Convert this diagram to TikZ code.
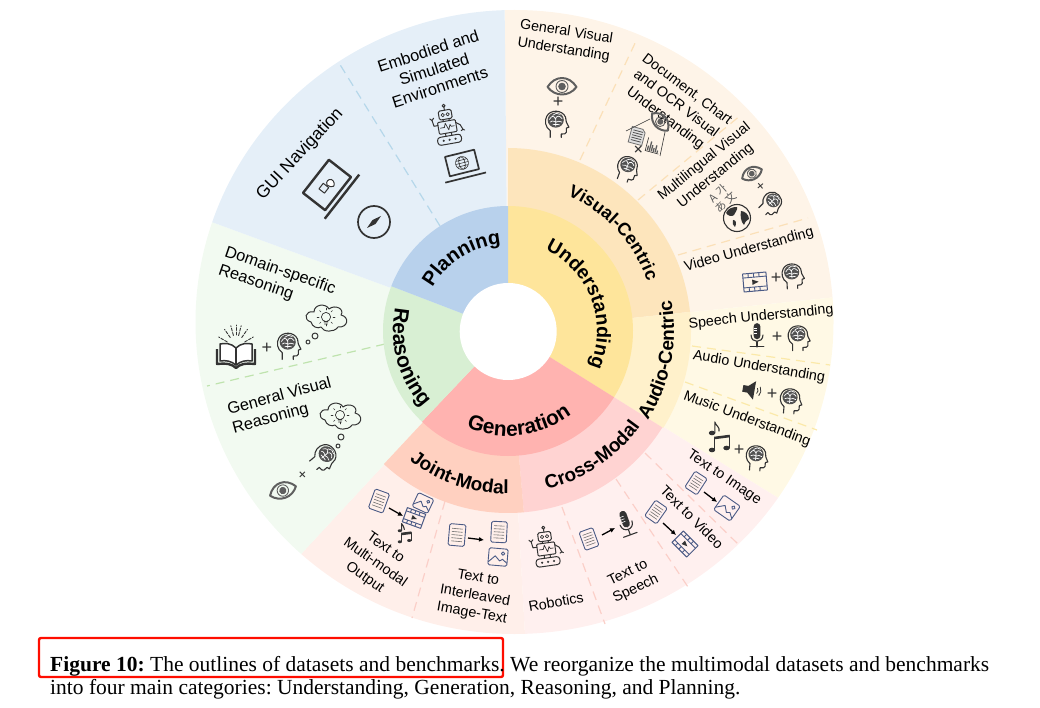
\documentclass[tikz,border=0pt]{standalone}
\usepackage{fontspec}
\setmainfont{Liberation Sans}
\newfontfamily\capfont{Liberation Serif}
\newfontfamily\cjkfont{Noto Sans CJK KR}
\usetikzlibrary{decorations.text,arrows.meta}
\definecolor{cUin}{HTML}{FEE59B}\definecolor{cVis}{HTML}{FDE5BC}\definecolor{cVisO}{HTML}{FEF4E8}
\definecolor{cAud}{HTML}{FFF1CB}\definecolor{cAudO}{HTML}{FFF9E5}
\definecolor{cGen}{HTML}{FFB3B0}\definecolor{cCro}{HTML}{FFD3D2}\definecolor{cCroO}{HTML}{FFF0EF}
\definecolor{cJoi}{HTML}{FFD0C0}\definecolor{cJoiO}{HTML}{FFEFEA}
\definecolor{cRea}{HTML}{D8EFD3}\definecolor{cReaO}{HTML}{F2FAF1}
\definecolor{cPla}{HTML}{B8D1EC}\definecolor{cPlaO}{HTML}{E5EFF8}
\definecolor{ink}{HTML}{333333}\definecolor{navy}{HTML}{4A5A85}\definecolor{eyeg}{HTML}{5F5F5F}
\definecolor{dPeach}{HTML}{FBE0B8}\definecolor{dYel}{HTML}{FBE9A9}\definecolor{dPink}{HTML}{FBCFC8}
\definecolor{dGreen}{HTML}{BFE3AE}\definecolor{dBlue}{HTML}{B5D7EA}
\newcommand{\sector}[4]{\fill[#1] (508,331) -- plot[domain=#3:#4,samples=50] ({508+#2*cos(\x)},{331-#2*sin(\x)}) -- cycle;}
\newcommand{\ringlabel}[5]{\path[decorate,decoration={text along path,text align=center,text={|\fontsize{#5}{22}\selectfont\bfseries|#1}}] plot[domain=#3:#4,samples=60] ({508+#2*cos(\x)},{331-#2*sin(\x)});}
\tikzset{
 lab/.style={inner sep=0,align=center,font=\fontsize{14.3}{18}\selectfont},
 labbig/.style={inner sep=0,align=center,font=\fontsize{16.3}{19}\selectfont},
 sym/.style={inner sep=0,font=\fontsize{18}{18}\selectfont,text=ink},
 icon/.style={draw=ink,line width=1pt,line join=round,line cap=round},
 thin icon/.style={draw=ink,line width=.6pt},
 navyi/.style={draw=navy,line width=.9pt,line join=round},
 flow/.style={draw=black,line width=1.3pt,-{Latex[length=5pt,width=5pt]}},
 sepO/.style={line width=1.2pt,dash pattern=on 9pt off 6pt},
 capt/.style={inner sep=0,anchor=base west,font=\capfont\fontsize{21.5}{24}\selectfont\frenchspacing},
 head/.pic={
  \draw[icon,line width=1.1pt] (-8,17) -- (-8,9) .. controls (-14,5) and (-15,-3) .. (-12,-8) .. controls (-8,-16) and (6,-16) .. (10,-7) .. controls (11,-4) and (11,-3) .. (11,-1) -- (14,5) -- (11,6) -- (11,11) .. controls (11,13) and (8,13) .. (5,13) -- (5,17);
  \fill[ink!85] (-1.5,-3.5) ellipse [x radius=9.5,y radius=9];
  \draw[white,line width=.7pt] (-9,-4) .. controls (-6,-9) and (-4,-9) .. (-2,-5) .. controls (0,-9) and (3,-9) .. (6,-5) (-8,-1) .. controls (-5,-4) and (-3,-1) .. (-1,-1) .. controls (1,-3) and (3,-2) .. (6,-1) (-5,-9) .. controls (-3,-12) and (1,-12) .. (4,-10) (-5,2) .. controls (-3,0) and (0,3) .. (3,2) (-1.5,-5) -- (-1.5,4);
 },
 eyeicon/.pic={
  \draw[draw=eyeg,line width=2pt,line join=round] (-14.5,0) .. controls (-7,-12) and (7,-12) .. (14.5,0) .. controls (7,10) and (-7,10) .. (-14.5,0) -- cycle;
  \draw[draw=eyeg,line width=.9pt] (0,-.5) circle [radius=6];
  \fill[eyeg] (0,-.5) circle [radius=3.8];
 },
 docicon/.pic={
  \draw[navyi,rounded corners=1.5pt] (-9,-12) rectangle (9,12);
  \foreach \yy in {-7,-3.5,0,3.5,7} \draw[draw=ink!70,line width=.6pt] (-6,\yy) -- (6,\yy);
 },
 imgicon/.pic={
  \draw[navyi,rounded corners=1.5pt] (-10,-9) rectangle (10,9);
  \draw[navyi] (-10,6) -- (-3,-1) -- (2,4) -- (5,2) -- (10,6);
  \draw[navyi] (5,-4) circle [radius=1.8];
 },
 filmicon/.pic={
  \draw[navyi,line width=1pt] (-13,-10) rectangle (13,10);
  \draw[navyi] (-13,-5.5) -- (13,-5.5) (-13,5.5) -- (13,5.5);
  \foreach \xx in {-7,-1,5} \draw[navyi] (\xx,-10) -- (\xx,-5.5) (\xx,5.5) -- (\xx,10);
  \fill[ink] (-3,-3) -- (4,0) -- (-3,3) -- cycle;
 },
 micicon/.pic={
  \fill[ink,rounded corners=3.5pt] (-4,-14) rectangle (4,5);
  \draw[white,line width=.6pt] (-4,-8) -- (0,-8) (-4,-5) -- (0,-5) (-4,-2) -- (0,-2);
  \draw[icon,line width=1.1pt] (-7,0) .. controls (-7,10) and (7,10) .. (7,0);
  \draw[icon,line width=1.1pt] (0,8) -- (0,14) (-8,14) -- (8,14);
 },
 speaker/.pic={
  \fill[ink] (-11,-4) -- (-5,-4) -- (3,-11) -- (3,11) -- (-5,4) -- (-11,4) -- cycle;
  \draw[icon,line width=.8pt] (6,-3) .. controls (7.5,-1) and (7.5,1) .. (6,3) (9,-5) .. controls (11,-2) and (11,2) .. (9,5);
 },
 notes/.pic={
  \fill[ink] (-8,12) ellipse [x radius=3.2,y radius=2.3] (6.5,10) ellipse [x radius=3.2,y radius=2.3] (-8,-5) ellipse [x radius=3.2,y radius=2.3];
  \draw[icon,line width=1.1pt] (-5.2,12) -- (-5.2,0) (9.3,10) -- (9.3,-2);
  \draw[ink,line width=2.6pt] (-5.7,0) -- (9.8,-2);
  \draw[icon,line width=1.1pt] (-5.2,-5) -- (-5.2,-16) .. controls (-4,-12) and (0,-11) .. (-1,-7);
 },
 robot/.pic={
  \draw[icon,rounded corners=1.5pt] (-6.5,-15) rectangle (6.5,-6);
  \draw[icon,line width=.7pt] (-2.5,-10.5) circle [radius=1.7] (2.5,-10.5) circle [radius=1.7];
  \draw[icon] (0,-15) -- (0,-18);\draw[icon] (0,-19.5) circle [radius=1.5];
  \draw[icon] (-3,-6) -- (-3,-4) (3,-6) -- (3,-4);
  \draw[icon,rounded corners=1pt] (-9,-4) rectangle (9,8);
  \draw[icon,line width=.7pt] (-7,2) -- (-3,2) -- (-1.5,-2) -- (1,5) -- (3,0) -- (4,2) -- (7,2);
  \draw[icon] (-9,-1) -- (-13,-1) -- (-14,-7) (-16,-9) -- (-14,-7) -- (-12,-9);
  \draw[icon] (9,-1) -- (13,2) -- (15,7) (13,8) -- (15,7) -- (16.5,8);
  \draw[icon] (-3,8) -- (-3,11) (3,8) -- (3,11);
  \draw[icon,rounded corners=3pt] (-12,11) rectangle (12,19);
  \fill[ink] (-6,15) circle [radius=1.2] (0,15) circle [radius=1.2] (6,15) circle [radius=1.2];
 },
 laptop/.pic={
  \draw[draw=ink,line width=2.4pt,line join=round] (-21,-14) rectangle (21,14);
  \draw[draw=ink,line width=2.4pt] (-28,19) -- (28,19);
 },
 smalllaptop/.pic={
  \draw[draw=ink,line width=1.7pt,line join=round] (-15,-10) rectangle (15,10);
  \draw[draw=ink,line width=1.7pt] (-21,15) -- (21,15);
  \draw[thin icon] (0,0) circle [radius=6.5] (0,0) ellipse [x radius=3,y radius=6.5] (-6.5,0) -- (6.5,0) (-5.5,-3) -- (5.5,-3) (-5.5,3) -- (5.5,3);
 },
 cursor/.pic={
  \draw[icon] (-8,-4) rectangle (-1,3);
  \draw[icon,fill=white] (0,0) .. controls (2,-3) and (5,-3) .. (7,0) .. controls (8,3) and (5,6) .. (3,6) .. controls (1,5) and (0,3) .. (0,0) -- cycle;
 },
 compass/.pic={
  \draw[draw=ink,line width=1.7pt] (0,0) circle [radius=16];
  \fill[ink] (-7,6) -- (-1.5,-2) -- (7,-6) -- (1.5,2) -- cycle;
 },
 cloudbulb/.pic={
  \draw[icon] (-15,4) .. controls (-23,2) and (-21,-8) .. (-12,-6) .. controls (-12,-14) and (0,-15) .. (3,-9) .. controls (9,-14) and (19,-9) .. (15,-3) .. controls (24,-1) and (22,10) .. (12,9) .. controls (8,15) and (-3,14) .. (-5,9) .. controls (-8,11) and (-14,9) .. (-15,4) -- cycle;
  \draw[icon,line width=.7pt] (0,-1) circle [radius=4.6] (-2,4) -- (2,4) (-1.5,6) -- (1.5,6);
  \foreach \aa in {0,45,...,315} \draw[icon,line width=.5pt] ({7*cos(\aa)},{-1+7*sin(\aa)}) -- ({9*cos(\aa)},{-1+9*sin(\aa)});
 },
 book/.pic={
  \draw[draw=ink,line width=2.4pt,line join=round] (-19,-3) -- (-19,12) .. controls (-9,11) and (-4,12) .. (0,16) .. controls (4,12) and (9,11) .. (19,12) -- (19,-3);
  \draw[icon,line width=1.5pt,fill=white] (0,-4) .. controls (-5,-9) and (-11,-9) .. (-16,-8) -- (-16,9) .. controls (-10,8) and (-5,9) .. (0,13) .. controls (5,9) and (10,8) .. (16,9) -- (16,-8) .. controls (11,-9) and (5,-9) .. (0,-4) -- cycle;
  \draw[icon,line width=1.5pt] (0,-4) -- (0,13);
  \foreach \aa in {-150,-125,-105,-90,-75,-55,-30} \draw[icon,line width=.9pt,dash pattern=on 3pt off 1.5pt] ({10*cos(\aa)},{-3+14*sin(\aa)}) -- ({20*cos(\aa)},{-3+24*sin(\aa)});
 },
 globe/.pic={
  \draw[draw=ink,line width=1.1pt] (0,0) circle [radius=13.5];
  \fill[ink] (-11,-5) .. controls (-9,-10) and (-4,-11) .. (0,-11) .. controls (1,-8) and (-2,-6) .. (-3,-3) .. controls (-5,-1) and (-9,-2) .. (-11,-5) -- cycle;
  \fill[ink] (-4,2) .. controls (-1,2) and (0,5) .. (-2,9) .. controls (-4,8) and (-5,5) .. (-4,2) -- cycle;
  \fill[ink] (4,-7) .. controls (8,-7) and (12,-3) .. (12,1) .. controls (9,3) and (7,5) .. (7,7) .. controls (4,4) and (3,-2) .. (4,-7) -- cycle;
 },
 chart/.pic={
  \draw[thin icon] (-8,-9) -- (-8,8) -- (9,8);
  \foreach \xx/\hh in {-5.5/6,-3/12,-.5/8,2/5,4.5/9,7/3} \draw[draw=ink!80,line width=1.3pt] (\xx,7) -- (\xx,7-\hh);
 },
 grayDoc/.pic={
  \fill[ink!15,draw=ink!70,line width=.8pt] (-7,-8) -- (4,-8) -- (7,-5) -- (7,8) -- (-7,8) -- cycle;
  \foreach \yy in {-5,-2.5,0,2.5,5} \draw[draw=ink!85,line width=.8pt] (-5,\yy) -- (5,\yy);
 },
}
\begin{document}
\begin{tikzpicture}[x=1pt,y=-1pt]
\useasboundingbox (0,0) rectangle (1040,708);
% outer wedges
\begin{scope}
\clip (514.5,322) ellipse [x radius=319,y radius=312];
\fill[cVisO] (508,331) -- (504,-50) -- (924,-50) -- (924,288) -- cycle;
\fill[cAudO] (508,331) -- (924,288) -- (924,551) -- (864,551) -- cycle;
\fill[cCroO] (508,331) -- (864,551) -- (530,724) -- cycle;
\fill[cJoiO] (508,331) -- (530,724) -- (238,622) -- cycle;
\fill[cReaO] (508,331) -- (238,622) -- (122,622) -- (122,189) -- cycle;
\fill[cPlaO] (508,331) -- (122,189) -- (122,-50) -- (504,-50) -- cycle;
\end{scope}
% separators
\draw[sepO,draw=dPeach] (580,160) -- (637,39);
\draw[sepO,draw=dPeach] (638,200) -- (741,115);
\draw[sepO,draw=dPeach] (678,255) -- (808,218);
\draw[sepO,draw=dYel] (692,346) -- (830,365);
\draw[sepO,draw=dYel] (685,382) -- (817,430);
\draw[sepO,draw=dPink] (645,453) -- (740,546);
\draw[sepO,draw=dPink] (616,479) -- (688,587);
\draw[sepO,draw=dPink] (562,507) -- (605,624);
\draw[sepO,draw=dPink] (445,501) -- (412,618);
\draw[sepO,draw=dGreen] (385,344) -- (207,386);
\draw[sepO,draw=dBlue] (440,226) -- (339,63);
% middle ring
\sector{cVis}{183}{90}{6}
\sector{cAud}{183}{6}{-32}
\sector{cCro}{182}{-32}{-85}
\sector{cJoi}{182}{-85}{-133}
% inner ring
\sector{cUin}{125}{90}{-32}
\sector{cGen}{125}{-32}{-133.5}
\sector{cRea}{125}{-133.5}{-201}
\sector{cPla}{125}{-201}{-270}
\fill[white] (508.2,331.5) circle [radius=48.5];
% ring labels
\ringlabel{Understanding}{89}{75}{-33}{19.5}
\ringlabel{Visual-Centric}{148}{75}{11}{18}
\ringlabel{Audio-Centric}{166}{-40}{18}{19}
\ringlabel{Planning}{87}{170}{75}{20}
\ringlabel{Reasoning}{115}{140}{250}{21}
\ringlabel{Generation}{105}{226}{328}{21}
\ringlabel{Joint-Modal}{163}{220}{283}{19}
\ringlabel{Cross-Modal}{163}{270}{338}{19}
% outer labels
\node[lab,rotate=-9] (t1) at (565,41) {General Visual\\Understanding};
\node[lab,rotate=-37] (t2) at (676,104) {Document, Chart\\and OCR Visual\\Understanding};
\node[lab,rotate=39] (t3) at (710,169) {Multilingual Visual\\Understanding};
\node[lab,rotate=15.5] (t4) at (749,250) {Video Understanding};
\node[lab,rotate=5.8] (t5) at (761,317) {Speech Understanding};
\node[lab,rotate=-9.8] (t6) at (759,367) {Audio Understanding};
\node[lab,rotate=-20.4] (t7) at (747,419) {Music Understanding};
\node[lab,rotate=-34] (t8) at (724,478) {Text to Image};
\node[lab,rotate=-45] (t9) at (692,517) {Text to Video};
\node[lab,rotate=26] (t10) at (632,581) {Text to\\Speech};
\node[lab,rotate=10] (t11) at (556,602) {Robotics};
\node[lab,rotate=-10] (t12) at (475,596) {Text to\\Interleaved\\Image-Text};
\node[lab,rotate=-35] (t13) at (375,563) {Text to\\Multi-modal\\Output};
\node[labbig,align=left,rotate=15] (t14) at (282,406) {General Visual\\Reasoning};
\node[labbig,align=left,rotate=-19] (t15) at (277,280) {Domain-specific\\Reasoning};
\node[labbig,rotate=47,font=\fontsize{17.4}{20}\selectfont] (t16) at (300,154) {GUI Navigation};
\node[labbig,rotate=18] (t17) at (434,69) {Embodied and\\Simulated\\Environments};
% icons: understanding
\pic at (562,87) {eyeicon};
\node[sym] (p1) at (558,102) {+};
\pic[scale=.85] at (557,123) {head};
\pic[rotate=-48,scale=.8] at (660,122) {eyeicon};
\pic[rotate=-15] at (637,136) {grayDoc};
\pic[rotate=-15,scale=.8] at (653,146) {chart};
\draw[thin icon] (626,131) -- (650,119) (665,132) -- (660,156);
\node[sym,rotate=45] (p2) at (639,150) {+};
\pic[rotate=-20,scale=.8] at (628,168) {head};
\pic[rotate=25,scale=.75] at (752,174) {eyeicon};
\node[sym,rotate=40,font=\fontsize{14}{14}\selectfont] (p3) at (761,187) {+};
\pic[rotate=-45,scale=.75] at (772,203) {head};
\node[inner sep=0,rotate=42,align=center,text=ink!80,font=\cjkfont\fontsize{11}{12}\selectfont] (t18) at (722,198) {A 가\\あ 文};
\pic at (737,218) {globe};
\pic[rotate=5,scale=.9] at (755,282) {filmicon};
\node[sym] (p4) at (776,278) {+};
\pic[rotate=3,scale=.8] at (793,275) {head};
\pic[scale=.85] at (757,335) {micicon};
\node[sym] (p5) at (777,337) {+};
\pic[scale=.8] at (799,337) {head};
\pic[rotate=-10,scale=.85] at (752,390) {speaker};
\node[sym] (p6) at (772,394) {+};
\pic[rotate=-5,scale=.8] at (791,400) {head};
\pic at (720,438) {notes};
\node[sym] (p7) at (739,450) {+};
\pic[rotate=-5,scale=.8] at (757,457) {head};
% generation
\pic[rotate=-33,scale=.8] at (696,483) {docicon};
\coordinate (a1s) at (704,492);\coordinate (a1e) at (717,502);\draw[flow] (a1s) -- (a1e);
\pic[rotate=-35] at (727,508) {imgicon};
\pic[rotate=-35,scale=.8] at (656,512) {docicon};
\coordinate (a2s) at (663,523);\coordinate (a2e) at (676,535);\draw[flow] (a2s) -- (a2e);
\pic[rotate=-45,scale=.8] at (685,544) {filmicon};
\pic[rotate=20,scale=.8] at (589,539) {docicon};
\coordinate (a3s) at (602,535);\coordinate (a3e) at (615,528);\draw[flow] (a3s) -- (a3e);
\pic[rotate=20,scale=.9] at (626,523) {micicon};
\pic[rotate=8] at (546,547) {robot};
\pic[rotate=-5,scale=.9] at (457,535) {docicon};
\coordinate (a4s) at (468,538);\coordinate (a4e) at (484,540);\draw[flow] (a4s) -- (a4e);
\pic[rotate=-3,scale=.87] at (499,532) {docicon};
\pic[rotate=-5,scale=.95] at (498,557) {imgicon};
\pic[rotate=-20,scale=.85] at (379,501) {docicon};
\coordinate (a5s) at (389,508);\coordinate (a5e) at (403,516);\draw[flow] (a5s) -- (a5e);
\pic[rotate=-25,scale=.85] at (423,503) {imgicon};
\pic[rotate=-20,scale=.75] at (414,518) {filmicon};
\pic[scale=.65] at (405,534) {notes};
% reasoning
\pic at (236,352) {book};
\node[sym] (p8) at (267,348) {+};
\pic[scale=.85] at (289,345) {head};
\pic at (326,318) {cloudbulb};
\draw[icon] (315,336) circle [radius=3] (308,342) circle [radius=2];
\pic at (340,416) {cloudbulb};
\draw[icon] (341,437) circle [radius=3] (338,446) circle [radius=2];
\pic[rotate=-50,scale=.85] at (325,457) {head};
\node[sym,rotate=45,font=\fontsize{15}{15}\selectfont] (p9) at (303,475) {+};
\pic[rotate=20,scale=.95] at (283,491) {eyeicon};
% planning
\pic[rotate=10] at (447,125) {robot};
\pic[rotate=14] at (462,163) {smalllaptop};
\pic[rotate=52] at (327,185) {laptop};
\pic[rotate=52] at (327,185) {cursor};
\pic at (374,222) {compass};
% caption
\draw[draw=red!90!orange,line width=2.4pt,rounded corners=2pt] (39,638) rectangle (503,677);
\node[capt] (c1) at (50,671) {\textbf{Figure 10:} The outlines of datasets and benchmarks. We reorganize the multimodal datasets and benchmarks};
\node[capt] (c2) at (50,694.5) {into four main categories: Understanding, Generation, Reasoning, and Planning.};
\end{tikzpicture}
\end{document}
